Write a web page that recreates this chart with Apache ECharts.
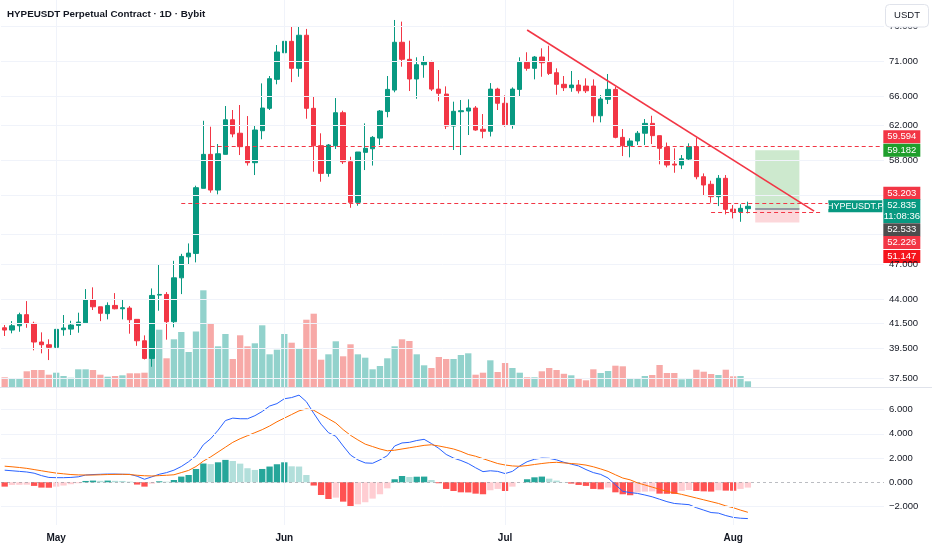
<!DOCTYPE html>
<html>
<head>
<meta charset="utf-8">
<title>HYPEUSDT Perpetual Contract</title>
<script src="https://cdn.jsdelivr.net/npm/echarts@6/dist/echarts.min.js"></script>
<style>
  html, body { margin: 0; padding: 0; background: #fff; }
  #chart { width: 932px; height: 550px; }
</style>
</head>
<body>
<div id="chart"></div>
<script>
// daily candles, 2025-04-24 .. 2025-08-03
const opens = [41.34, 41.15, 41.51, 42.45, 41.71, 40.17, 39.95, 39.74, 41.18, 41.23,
  41.54, 41.76, 43.75, 43.13, 42.54, 43.25, 42.96, 43.02, 42.05, 40.27,
  38.86, 44.16, 44.22, 41.85, 45.73, 47.71, 48.04, 54.79, 58.68, 54.6,
  58.68, 62.93, 61.24, 59.6, 57.7, 61.55, 64.4, 68.28, 72.05, 73.73,
  69.82, 74.64, 64.4, 59.72, 56.47, 59.72, 63.83, 57.81, 53.26, 58.92,
  59.35, 60.64, 63.98, 66.82, 73.59, 71.1, 68.33, 70.33, 70.72, 66.95,
  66.28, 62.13, 63.96, 64.05, 64.44, 61.73, 61.48, 66.95, 65.06, 62.3,
  66.91, 70.67, 69.82, 71.43, 70.67, 69.2, 67.6, 67.14, 67.5, 67.36,
  67.36, 63.44, 65.58, 66.91, 60.73, 59.72, 60.29, 61.24, 62.47, 60.94,
  59.52, 57.54, 57.43, 58.13, 59.6, 56.09, 55.24, 53.87, 55.91, 52.54,
  52.26, 52.58];
const closes = [41.15, 41.51, 42.45, 41.71, 40.17, 39.95, 39.74, 41.21, 41.32, 41.57,
  41.82, 43.75, 43.13, 42.57, 43.25, 42.96, 43.05, 42.02, 40.27, 38.86,
  44.13, 44.22, 41.85, 45.73, 47.75, 48.07, 54.86, 58.68, 54.6, 58.75,
  62.93, 61.15, 59.6, 57.7, 61.64, 64.44, 68.37, 72.16, 73.73, 69.82,
  74.64, 64.4, 59.72, 56.47, 59.8, 63.83, 57.81, 53.26, 58.96, 59.4,
  60.73, 64.05, 66.91, 73.59, 71.1, 68.33, 70.33, 70.72, 66.95, 66.38,
  62.13, 64.01, 64.09, 64.44, 61.64, 61.48, 66.95, 65.06, 62.3, 66.95,
  70.67, 69.82, 71.43, 70.61, 69.1, 67.6, 67.14, 67.5, 66.72, 66.72,
  63.44, 65.62, 66.91, 60.73, 59.72, 60.29, 61.24, 62.47, 60.94, 59.4,
  57.43, 57.43, 58.16, 59.6, 56.09, 55.16, 53.87, 55.91, 52.51, 52.26,
  52.62, 52.84];
const highs = [41.57, 41.9, 42.62, 43.63, 41.85, 40.96, 40.39, 41.23, 42.42, 41.93,
  42.62, 44.7, 44.86, 43.13, 43.52, 44.34, 43.78, 43.19, 42.05, 40.71,
  44.76, 47.02, 44.43, 47.33, 48.0, 49.02, 55.08, 62.8, 62.05, 59.92,
  64.7, 64.18, 64.83, 63.4, 62.22, 67.73, 68.74, 73.18, 76.0, 75.9,
  75.9, 75.6, 65.98, 61.23, 59.92, 65.75, 64.09, 58.4, 58.96, 62.47,
  60.89, 64.18, 68.74, 76.98, 76.72, 73.83, 71.39, 71.58, 70.9, 69.58,
  67.32, 65.27, 65.49, 65.58, 64.7, 63.66, 67.77, 67.13, 66.11, 67.18,
  71.39, 72.12, 71.58, 72.7, 73.08, 69.82, 68.74, 69.44, 68.19, 68.42,
  68.28, 66.15, 69.02, 67.27, 61.76, 60.62, 61.52, 63.02, 63.44, 60.94,
  60.1, 59.4, 58.6, 60.0, 60.69, 56.47, 55.64, 56.28, 56.28, 52.97,
  53.05, 53.33];
const lows = [40.66, 40.88, 41.01, 41.34, 39.5, 39.26, 38.73, 39.66, 40.68, 40.74,
  40.93, 41.76, 42.85, 41.9, 42.05, 42.91, 42.05, 40.85, 39.86, 38.78,
  38.21, 42.79, 40.36, 41.38, 44.25, 46.95, 47.18, 54.79, 54.31, 54.13,
  58.68, 60.74, 58.6, 57.37, 56.28, 60.5, 64.18, 67.6, 70.53, 67.9,
  68.64, 63.06, 56.66, 55.53, 56.09, 59.32, 57.55, 52.68, 52.9, 56.85,
  57.37, 59.8, 63.24, 66.52, 70.05, 66.69, 65.66, 68.5, 66.69, 65.32,
  61.76, 59.2, 58.6, 61.02, 61.55, 60.62, 60.84, 64.18, 62.05, 61.8,
  66.02, 69.48, 68.28, 68.64, 68.88, 66.19, 66.69, 66.59, 66.36, 66.42,
  62.6, 62.6, 64.96, 60.62, 58.48, 58.33, 59.8, 59.8, 59.92, 57.51,
  57.16, 56.54, 56.96, 58.01, 55.8, 54.05, 53.22, 52.86, 51.98, 51.56,
  51.21, 52.09];
// relative volume
const volumes = [9.7, 8.3, 9, 15.7, 17, 17, 12.3, 14.3, 11, 9.3,
  17.7, 17.7, 17, 12.3, 10.3, 11, 11.7, 13.7, 13.7, 14.3,
  57.3, 57.3, 28.7, 47.7, 55, 35, 55.5, 96.7, 63.3, 40.7,
  53, 28, 51.7, 40.7, 43.7, 61.7, 32.7, 37.3, 53, 44.3,
  38.3, 67.3, 73.3, 27.3, 32.7, 45.7, 30.7, 42.7, 32.7, 29.3,
  17.7, 21, 28.7, 40.7, 47.7, 46, 32.7, 21.7, 19, 30,
  28, 28, 32, 33.7, 12.3, 14.3, 26.7, 15, 24, 19,
  14.3, 9.7, 9.7, 15.7, 19, 17, 13.2, 11.7, 8.7, 6.7,
  17.7, 14, 16, 21.3, 20.7, 8.3, 8.3, 11, 12, 22,
  14, 14, 7.7, 8.3, 17.3, 15.3, 13, 12, 17.3, 10.7,
  11, 5.7];
const macdLine = [1.0, 0.95, 0.9, 0.85, 0.75, 0.55, 0.4, 0.38, 0.38, 0.4,
  0.45, 0.6, 0.64, 0.66, 0.68, 0.68, 0.66, 0.66, 0.5, 0.25,
  0.45, 0.66, 0.8, 1.0, 1.3, 1.7, 2.2, 3.1, 3.6, 4.3,
  5.1, 5.3, 5.25, 5.25, 5.5, 5.85, 6.3, 6.5, 6.9, 7.0,
  7.2, 6.66, 5.7, 4.8, 4.1, 3.8, 3.0, 2.25, 1.85, 1.6,
  1.57, 1.85, 2.2, 3.0, 3.25, 3.3, 3.45, 3.55, 3.2, 2.8,
  2.3, 2.0, 1.8, 1.55, 1.2, 0.88, 0.95, 0.9, 0.72, 0.9,
  1.35, 1.7, 1.9, 2.0, 1.98, 1.85, 1.65, 1.5, 1.35, 1.05,
  0.8, 0.65, 0.35, -0.2, -0.75, -0.85, -0.92, -1.05, -1.2, -1.4,
  -1.6, -1.75, -1.8, -1.85, -2.1, -2.3, -2.5, -2.55, -2.75, -2.9,
  -2.97, -3.0];
const signalLine = [1.33, 1.28, 1.22, 1.15, 1.05, 0.95, 0.85, 0.76, 0.7, 0.64,
  0.61, 0.6, 0.6, 0.62, 0.64, 0.65, 0.66, 0.64, 0.58, 0.54,
  0.52, 0.55, 0.58, 0.62, 0.8, 0.98, 1.3, 1.75, 2.1, 2.5,
  2.9, 3.3, 3.6, 3.85, 4.1, 4.35, 4.65, 5.0, 5.3, 5.6,
  5.9, 6.06, 5.95, 5.6, 5.25, 4.9, 4.35, 3.88, 3.5, 3.15,
  2.95, 2.75, 2.6, 2.65, 2.75, 2.85, 2.95, 3.05, 3.1, 3.0,
  2.88, 2.75, 2.55, 2.3, 2.15, 1.95, 1.75, 1.55, 1.43, 1.35,
  1.32, 1.38, 1.47, 1.55, 1.62, 1.65, 1.6, 1.55, 1.5, 1.42,
  1.28, 1.1, 0.9, 0.62, 0.35, 0.2, -0.05, -0.22, -0.4, -0.58,
  -0.75, -0.88, -1.0, -1.15, -1.3, -1.45, -1.6, -1.75, -1.95, -2.1,
  -2.3, -2.48];
const macdHist = [-0.36, -0.22, -0.21, -0.2, -0.3, -0.44, -0.45, -0.36, -0.27, -0.16,
  -0.08, 0.11, 0.14, 0.12, 0.14, 0.12, 0.11, 0.05, -0.19, -0.36,
  -0.11, 0.08, 0.05, 0.19, 0.47, 0.6, 1.1, 1.55, 1.5, 1.65,
  1.85, 1.76, 1.54, 1.16, 1.02, 1.1, 1.3, 1.49, 1.65, 1.32,
  1.3, 0.6, -0.27, -1.05, -1.38, -1.27, -1.6, -2.01, -1.82, -1.65,
  -1.35, -0.99, -0.5, 0.25, 0.52, 0.44, 0.46, 0.47, 0.19, -0.08,
  -0.55, -0.72, -0.83, -0.84, -0.94, -0.99, -0.66, -0.55, -0.72, -0.36,
  -0.01, 0.25, 0.41, 0.47, 0.3, 0.14, 0.02, -0.11, -0.22, -0.3,
  -0.55, -0.58, -0.44, -0.83, -0.99, -1.07, -0.83, -0.77, -0.75, -0.94,
  -0.95, -0.96, -0.72, -0.64, -0.72, -0.75, -0.77, -0.66, -0.69, -0.7,
  -0.55, -0.44];

const priceTicks = [76, 71, 66, 62, 58, 54, 50, 47, 44, 41.5, 39.5, 37.5];
const macdTicks = [6, 4, 2, 0, -2];
// right-hand price tags: 59.594 / 59.182 / 53.203 / last / entry / 52.226 / stop
const tagValues = [59.594, 59.182, 53.203, 52.835, 52.533, 52.226, 51.147];
const lastPrice = 52.835;
const countdown = '11:08:36';
// drawings
const trendFrom = 75.44, trendTo = 52.33;
const target = 59.182, entry = 52.533, stop = 51.147;

const FONT = '"Liberation Sans", Arial, sans-serif';
const UP = '#089981', DOWN = '#f23645';
const L = Math.log;

const days = [];
const t0 = Date.UTC(2025, 3, 24);
for (let i = 0; i < 120; i++) days.push(new Date(t0 + i * 864e5).toISOString().slice(0, 10));
const monthStarts = days.filter(d => d.endsWith('-01'));
const MONTHS = ['Jan', 'Feb', 'Mar', 'Apr', 'May', 'Jun', 'Jul', 'Aug', 'Sep', 'Oct', 'Nov', 'Dec'];
const lastCat = days[days.length - 1];

const candles = opens.map((o, i) => [L(o), L(closes[i]), L(lows[i]), L(highs[i])]);
const volData = volumes.map((v, i) => ({
  value: v,
  itemStyle: { color: closes[i] >= opens[i] ? 'rgba(38,166,154,0.5)' : 'rgba(239,83,80,0.5)' }
}));
const histData = macdHist.map((v, i) => {
  const prev = i ? macdHist[i - 1] : 0;
  let c;
  if (v >= 0) c = v > prev ? '#26a69a' : '#b2dfdb';
  else c = v < prev ? '#ff5252' : '#ffcdd2';
  return { value: v, itemStyle: { color: c } };
});

const gridLine = { color: '#f0f3fa', width: 1, type: 'solid' };
const monthLines = monthStarts.map(d => ({ xAxis: d, label: { show: false } }));
const dashed = { color: '#f23645', width: 1, type: [4, 3] };

const tagStyle = [
  { color: '#f23645', dy: -10 },
  { color: '#1f9e2c', dy: 0 },
  { color: '#f23645', dy: -9.7 },
  { color: '#089981', dy: 4.7 },
  { color: '#4d4d4d', dy: 20.7 },
  { color: '#f23645', dy: 30.5 },
  { color: '#f5141c', dy: 34 }
];
const tagPoints = tagValues.map((v, i) => {
  const isLast = v === lastPrice;
  return {
    coord: [lastCat, L(v)],
    symbolSize: [37, isLast ? 24 : 13],
    symbolOffset: [21.5, tagStyle[i].dy],
    itemStyle: { color: tagStyle[i].color },
    label: { formatter: isLast ? v.toFixed(3) + '\n' + countdown : v.toFixed(3) }
  };
});
tagPoints.push({
  coord: [lastCat, L(lastPrice)],
  symbolSize: [54, 12],
  symbolOffset: [-25, 0],
  itemStyle: { color: UP },
  label: { formatter: 'HYPEUSDT.P', fontSize: 9 }
});

const chart = echarts.init(document.getElementById('chart'));
chart.setOption({
  animation: false,
  backgroundColor: '#ffffff',
  grid: [
    { left: 1, right: 48, top: 0, bottom: 163 },
    { left: 1, right: 48, top: 388, bottom: 25 }
  ],
  xAxis: [
    { type: 'category', gridIndex: 0, data: days, boundaryGap: true, show: false },
    {
      type: 'category', gridIndex: 1, data: days, boundaryGap: true,
      axisLine: { show: false }, axisTick: { show: false }, splitLine: { show: false },
      axisLabel: {
        interval: (idx, val) => val.endsWith('-01'),
        formatter: val => MONTHS[+val.slice(5, 7) - 1],
        color: '#131722', fontSize: 10, fontWeight: 'bold', fontFamily: FONT, margin: 8
      }
    }
  ],
  yAxis: [
    { type: 'value', gridIndex: 0, min: L(36.68), max: L(80.15), show: false },
    { type: 'value', gridIndex: 0, min: 0, max: 387, show: false },
    { type: 'value', gridIndex: 1, min: -3.53, max: 7.79, show: false }
  ],
  series: [
    {
      name: 'price-grid', type: 'line', xAxisIndex: 0, yAxisIndex: 0, data: [], clip: false, z: 1,
      markLine: {
        silent: true, symbol: 'none', animation: false, lineStyle: gridLine,
        label: { position: 'end', distance: 5, color: '#131722', fontSize: 9.5, fontFamily: FONT },
        data: priceTicks.map(t => ({
          yAxis: L(t),
          label: { show: t !== 54 && t !== 50, formatter: t.toFixed(3) }
        })).concat(monthLines)
      }
    },
    {
      name: 'Volume', type: 'bar', xAxisIndex: 0, yAxisIndex: 1, data: volData,
      barWidth: '86%', z: 2
    },
    {
      name: 'HYPEUSDT.P', type: 'candlestick', xAxisIndex: 0, yAxisIndex: 0, data: candles,
      barWidth: '66%', z: 3,
      itemStyle: { color: UP, color0: DOWN, borderColor: UP, borderColor0: DOWN, borderWidth: 1 }
    },
    {
      name: 'drawings', type: 'line', xAxisIndex: 0, yAxisIndex: 0, data: [], clip: false, z: 5,
      markLine: {
        silent: true, symbol: 'none', animation: false, label: { show: false },
        data: [
          [{ coord: [days[71], L(trendFrom)], lineStyle: { color: '#f23645', width: 1.6, type: 'solid' } },
           { coord: [days[110], L(trendTo)] }],
          [{ coord: [days[28], L(tagValues[0])], lineStyle: dashed }, { coord: [lastCat, L(tagValues[0])] }],
          [{ coord: [days[24], L(tagValues[2])], lineStyle: dashed }, { coord: [lastCat, L(tagValues[2])] }],
          [{ coord: [days[96], L(tagValues[5])], lineStyle: dashed }, { coord: [days[111], L(tagValues[5])] }],
          [{ coord: [days[102], L(entry)], lineStyle: { color: '#9598a1', width: 2, type: 'solid' } },
           { coord: [days[108], L(entry)] }]
        ]
      },
      markArea: {
        silent: true,
        data: [
          [{ coord: [days[102], L(target)], itemStyle: { color: 'rgba(76,175,80,0.28)' } },
           { coord: [days[108], L(entry)] }],
          [{ coord: [days[102], L(entry)], itemStyle: { color: 'rgba(242,54,69,0.2)' } },
           { coord: [days[108], L(stop)] }]
        ]
      }
    },
    {
      name: 'tags', type: 'line', xAxisIndex: 0, yAxisIndex: 0, data: [], clip: false, z: 10,
      markPoint: {
        silent: true, symbol: 'rect', animation: false,
        label: { show: true, position: 'inside', color: '#ffffff', fontSize: 9.5, lineHeight: 11, fontFamily: FONT },
        data: tagPoints
      }
    },
    {
      name: 'macd-grid', type: 'line', xAxisIndex: 1, yAxisIndex: 2, data: [], clip: false, z: 1,
      markLine: {
        silent: true, symbol: 'none', animation: false, lineStyle: gridLine,
        label: { position: 'end', distance: 5, color: '#131722', fontSize: 9.5, fontFamily: FONT },
        data: macdTicks.map(t => ({
          yAxis: t,
          lineStyle: t === 0 ? { color: 'rgba(120,123,134,0.5)', type: [3, 3], width: 1 } : gridLine,
          label: { formatter: (t < 0 ? '\u2212' : '') + Math.abs(t).toFixed(3) }
        })).concat(monthLines)
      }
    },
    {
      name: 'Histogram', type: 'bar', xAxisIndex: 1, yAxisIndex: 2, data: histData, barWidth: '86%', z: 2
    },
    {
      name: 'MACD', type: 'line', xAxisIndex: 1, yAxisIndex: 2, data: macdLine, symbol: 'none', z: 3,
      lineStyle: { color: '#2962ff', width: 1 }
    },
    {
      name: 'Signal', type: 'line', xAxisIndex: 1, yAxisIndex: 2, data: signalLine, symbol: 'none', z: 3,
      lineStyle: { color: '#ff6d00', width: 1 }
    }
  ],
  graphic: [
    { type: 'line', z: 50, shape: { x1: 0, y1: 387.5, x2: 932, y2: 387.5 }, style: { stroke: '#e0e3eb', lineWidth: 1 } },
    { type: 'text', z: 100, x: 7, y: 14.5,
      style: { text: 'HYPEUSDT Perpetual Contract \u00b7 1D \u00b7 Bybit', font: 'bold 9.8px ' + FONT, fill: '#131722', verticalAlign: 'middle' } },
    { type: 'rect', z: 100, shape: { x: 885.5, y: 4.5, width: 43, height: 22.5, r: 4 }, style: { fill: '#ffffff', stroke: '#e0e3eb', lineWidth: 1 } },
    { type: 'text', z: 101, x: 907, y: 15.5,
      style: { text: 'USDT', font: '9.5px ' + FONT, fill: '#131722', align: 'center', verticalAlign: 'middle' } }
  ]
});
</script>
</body>
</html>
